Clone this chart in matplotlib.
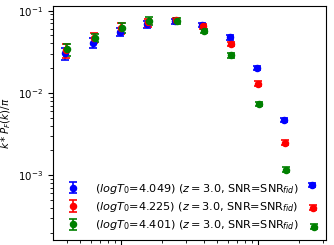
#!/usr/bin/env python3

import matplotlib
matplotlib.use('Agg')
import matplotlib.pyplot as plt

# k bins (log-spaced)
k_bins = [0.00398, 0.00631, 0.0100, 0.0158, 0.0251, 0.0398, 0.0631, 0.100, 0.158, 0.251]

# k*P_F(k)/pi for the three thermal models
p_4049 = [0.0303, 0.0409, 0.0557, 0.0680, 0.0740, 0.0670, 0.0473, 0.0199, 0.00464, 0.000756]
e_4049 = [0.0052, 0.0055, 0.0064, 0.0060, 0.0050, 0.0040, 0.0030, 0.0011, 0.00025, 0.000045]

p_4225 = [0.0330, 0.0467, 0.0610, 0.0720, 0.0760, 0.0645, 0.0393, 0.0130, 0.00249, 0.000402]
e_4225 = [0.0065, 0.0065, 0.0090, 0.0080, 0.0055, 0.0040, 0.0025, 0.0008, 0.00016, 0.000027]

p_4401 = [0.0340, 0.0471, 0.0622, 0.0756, 0.0750, 0.0568, 0.0287, 0.00733, 0.00117, 0.000237]
e_4401 = [0.0057, 0.0050, 0.0080, 0.0090, 0.0055, 0.0035, 0.0020, 0.00045, 0.00008, 0.000018]

labels = [r'$(logT_0$=4.049) ($z=3.0$, SNR=SNR$_{fid}$)',
          r'$(logT_0$=4.225) ($z=3.0$, SNR=SNR$_{fid}$)',
          r'$(logT_0$=4.401) ($z=3.0$, SNR=SNR$_{fid}$)']

def main():
    fs = 7.4
    fig = plt.figure(figsize = (3.34, 2.45), dpi = 100)
    ax = fig.add_axes([0.1587, 0.0204, 0.8173, 0.9551])

    series = [(p_4049, e_4049, 'b', 0.985),
              (p_4225, e_4225, 'r', 1.0),
              (p_4401, e_4401, 'g', 1.015)]
    for (p, e, c, shift), lab in zip(series, labels):
        ax.errorbar([k * shift for k in k_bins], p, yerr = e, fmt = 'o', color = c,
                    markersize = 4.4, capsize = 2.8, elinewidth = 1.2,
                    capthick = 1.2, label = lab)

    ax.set_xscale('log')
    ax.set_yscale('log')
    ax.set_ylabel(r'$k*P_F(k)/\pi$', fontsize = fs)
    ax.tick_params(labelsize = fs)
    # x tick labels fall below the visible area in the original
    ax.tick_params(axis = 'x', which = 'both', labelbottom = False)

    ax.legend(loc = 'lower left', bbox_to_anchor = (0.005, 0.0), frameon = False,
              fontsize = 8.1, handlelength = 2.0, labelspacing = 0.38,
              handletextpad = 0.9, borderaxespad = 0.3)

    fig.savefig('out.png')

if __name__ == "__main__":
    main()
